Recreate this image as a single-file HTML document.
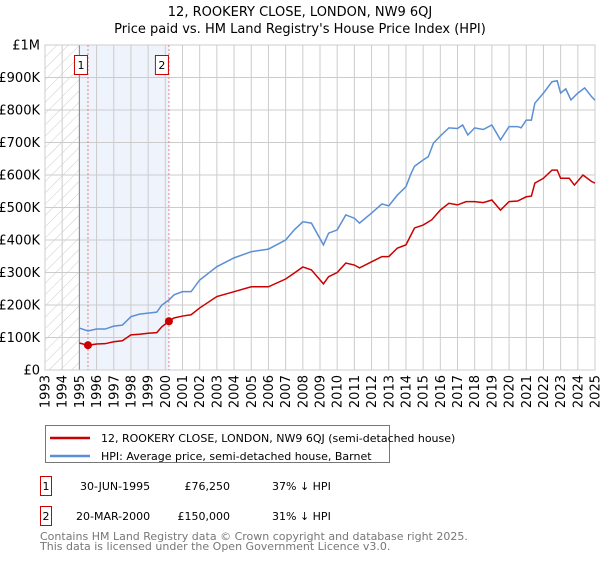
<!DOCTYPE html>
<html><head><meta charset="utf-8"><style>
body{margin:0;background:#fff;width:600px;height:560px;overflow:hidden;font-family:"DejaVu Sans","Liberation Sans",sans-serif;}
svg text{font-family:"DejaVu Sans","Liberation Sans",sans-serif;}
</style></head><body>
<svg id="chart" width="600" height="560" xmlns="http://www.w3.org/2000/svg">
<defs><pattern id="hatch" width="8" height="8" patternUnits="userSpaceOnUse" patternTransform="rotate(45)"><line x1="0" y1="0" x2="0" y2="8" stroke="#ccc" stroke-width="1"/></pattern></defs>
<text x="300" y="16" text-anchor="middle" font-size="13" fill="#000">12, ROOKERY CLOSE, LONDON, NW9 6QJ</text>
<text x="300" y="33" text-anchor="middle" font-size="13" fill="#000">Price paid vs. HM Land Registry's House Price Index (HPI)</text>
<g id="plot"></g>
<g>
<rect x="45.5" y="425.5" width="344" height="37" fill="#fff" stroke="#777"/>
<line x1="50" y1="438" x2="90" y2="438" stroke="#cc0000" stroke-width="2.5"/>
<text x="101" y="442" font-size="11">12, ROOKERY CLOSE, LONDON, NW9 6QJ (semi-detached house)</text>
<line x1="50" y1="456" x2="90" y2="456" stroke="#5b8fd4" stroke-width="2.5"/>
<text x="101" y="460" font-size="11">HPI: Average price, semi-detached house, Barnet</text>
</g>
<g font-size="11">
<rect x="40.5" y="476.5" width="11" height="19" fill="#fff" stroke="#cc0000"/>
<text x="46" y="490" text-anchor="middle">1</text>
<text x="80" y="490">30-JUN-1995</text>
<text x="230" y="490" text-anchor="end">£76,250</text>
<text x="272" y="490">37% ↓ HPI</text>
<rect x="40.5" y="506.5" width="11" height="19" fill="#fff" stroke="#cc0000"/>
<text x="46" y="520" text-anchor="middle">2</text>
<text x="76" y="520">20-MAR-2000</text>
<text x="230" y="520" text-anchor="end">£150,000</text>
<text x="272" y="520">31% ↓ HPI</text>
</g>
<text x="40" y="540" font-size="11" fill="#777">Contains HM Land Registry data © Crown copyright and database right 2025.</text>
<text x="40" y="550" font-size="11" fill="#777">This data is licensed under the Open Government Licence v3.0.</text>
</svg>
<script>
const hpiDates=[1995,1995.5,1996,1996.5,1997,1997.5,1998,1998.5,1999,1999.5,1999.8,2000.2,2000.5,2001,2001.5,2002,2003,2004,2005,2006,2007,2007.5,2008,2008.5,2009.2,2009.5,2010,2010.5,2011,2011.3,2012,2012.6,2013,2013.5,2014,2014.3,2014.5,2015,2015.3,2015.6,2016,2016.5,2017,2017.3,2017.6,2018,2018.5,2019,2019.5,2020,2020.5,2020.7,2021,2021.3,2021.5,2022,2022.5,2022.8,2023,2023.3,2023.6,2024,2024.4,2024.8,2025];
const hpiValues=[129,120,126,126,135,138,164,172,175,178,200,215,231,241,241,277,318,345,364,372,400,431,456,452,385,421,431,477,467,452,483,511,505,538,564,605,627,646,656,698,720,745,743,754,723,745,740,754,708,749,749,745,769,769,821,852,887,890,852,865,831,852,868,841,830];
const ppDates=[1995,1995.5,1996,1996.5,1997,1997.5,1998,1998.5,1999,1999.5,1999.8,2000.2,2000.5,2001,2001.5,2002,2003,2004,2005,2006,2007,2007.5,2008,2008.5,2009.2,2009.5,2010,2010.5,2011,2011.3,2012,2012.6,2013,2013.5,2014,2014.5,2015,2015.5,2016,2016.5,2017,2017.5,2018,2018.5,2019,2019.5,2020,2020.5,2021,2021.3,2021.5,2022,2022.5,2022.8,2023,2023.5,2023.8,2024.3,2024.8,2025];
const ppValues=[83,76,80,81,87,90,108,110,113,115,133,150,160,166,170,191,226,241,256,256,280,298,317,308,265,287,300,329,323,314,333,349,349,375,385,437,446,462,492,513,508,518,518,515,523,492,518,520,533,535,575,590,615,615,590,590,569,600,580,575];
const yTicks=[0,100,200,300,400,500,600,700,800,900,1000];
const yTickLabels=["£0","£100K","£200K","£300K","£400K","£500K","£600K","£700K","£800K","£900K","£1M"];
const xTicks=[1993,1994,1995,1996,1997,1998,1999,2000,2001,2002,2003,2004,2005,2006,2007,2008,2009,2010,2011,2012,2013,2014,2015,2016,2017,2018,2019,2020,2021,2022,2023,2024,2025];
const saleDates=[1995.5,2000.21];
const saleValues=[76.25,150];
const saleLabels=["1","2"];

const X0=45,X1=595,Y0=370,Y1=45;
const xs=d=>X0+(d-1993)/(2025-1993)*(X1-X0);
const ys=v=>Y0-v/1000*(Y0-Y1);
const NS="http://www.w3.org/2000/svg";
const g=document.getElementById('plot');
function mk(t,a,p){const e=document.createElementNS(NS,t);for(const k in a)e.setAttribute(k,a[k]);(p||g).appendChild(e);return e;}
let e;
e=mk('rect',{x:xs(1995),y:Y1,width:xs(2000.21)-xs(1995),height:Y0-Y1,fill:'#eef3fc'});


e=mk('rect',{x:X0,y:Y1,width:xs(1995)-X0,height:Y0-Y1,fill:'url(#hatch)'});


yTicks.forEach((v,i)=>{
 e=mk('line',{x1:X0,x2:X1,y1:ys(v),y2:ys(v),stroke:'#ccc','stroke-width':1});
 
 
 e=mk('text',{x:40,y:ys(v)+4.5,'text-anchor':'end','font-size':13});
 e.textContent=yTickLabels[i];
 
 
});
xTicks.forEach(d=>{
 e=mk('line',{x1:xs(d),x2:xs(d),y1:Y1,y2:Y0,stroke:'#ccc','stroke-width':1});
 
 
 e=mk('text',{x:0,y:0,'text-anchor':'end','font-size':13,transform:`translate(${xs(d)+4.5},375) rotate(-90)`});
 e.textContent=d;
 
 
});
e=mk('line',{x1:xs(1995),x2:xs(1995),y1:Y1,y2:Y0,stroke:'#888','stroke-width':1});


e=mk('rect',{x:X0,y:Y1,width:X1-X0,height:Y0-Y1,fill:'none',stroke:'#ccc'});


saleDates.forEach((d,i)=>{
 e=mk('line',{x1:xs(d),x2:xs(d),y1:Y1,y2:Y0,stroke:'#f08080','stroke-width':1,'stroke-dasharray':'2,2'});
 
 
 e=mk('rect',{x:xs(d)-13.5,y:55.5,width:13,height:19,fill:'#fff',stroke:'#cc0000'});
 
 
 e=mk('text',{x:xs(d)-7,y:69,'text-anchor':'middle','font-size':11});
 e.textContent=saleLabels[i];
 
 
});
e=mk('polyline',{points:hpiDates.map((d,i)=>xs(d)+','+ys(hpiValues[i])).join(' '),fill:'none',stroke:'#5b8fd4','stroke-width':1.5});


e=mk('polyline',{points:ppDates.map((d,i)=>xs(d)+','+ys(ppValues[i])).join(' '),fill:'none',stroke:'#cc0000','stroke-width':1.5});


saleDates.forEach((d,i)=>{
 e=mk('circle',{cx:xs(d),cy:ys(saleValues[i]),r:4,fill:'#cc0000'});
 
 
});
</script>
</body></html>
